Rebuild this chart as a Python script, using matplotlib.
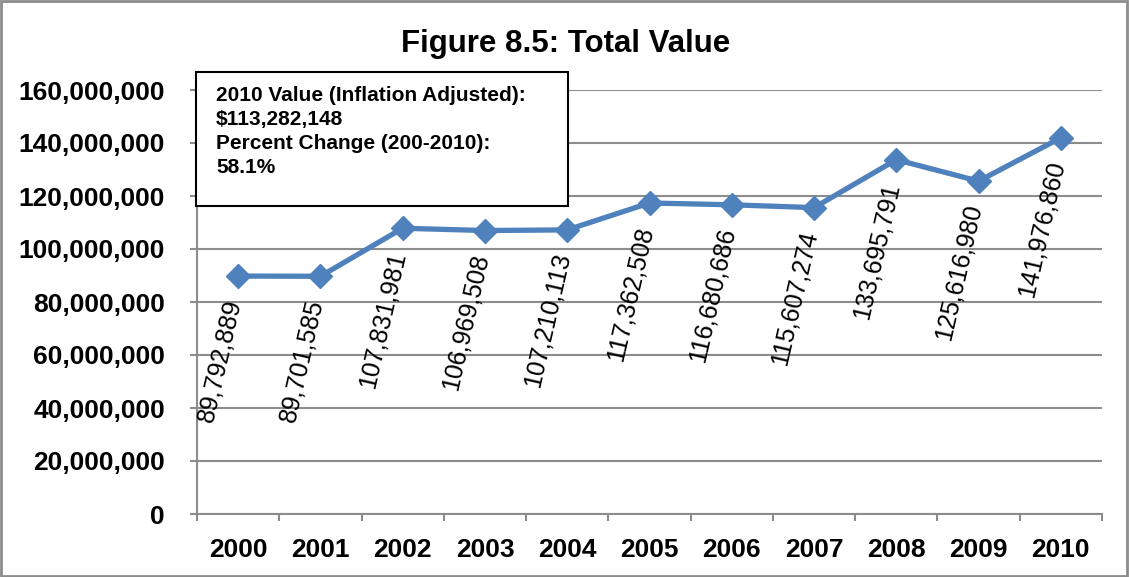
import matplotlib.pyplot as plt
import numpy as np
from matplotlib.patches import Rectangle

years = ["2000", "2001", "2002", "2003", "2004", "2005", "2006", "2007", "2008", "2009", "2010"]
values = [89792889, 89701585, 107831981, 106969508, 107210113, 117362508,
          116680686, 115607274, 133695791, 125616980, 141976860]
yticks = [0, 20000000, 40000000, 60000000, 80000000, 100000000, 120000000, 140000000, 160000000]
box_lines = ["2010 Value (Inflation Adjusted):", "$113,282,148",
             "Percent Change (200-2010):", "58.1%"]

plt.rcParams['font.family'] = ['Liberation Sans', 'DejaVu Sans']
grid_c = '#8c8c8c'
line_c = '#4f81bd'

fig = plt.figure(figsize=(11.29, 5.77), dpi=100)
ax = fig.add_axes([197/1129, 1-514/577, 905/1129, 424/577])

x = np.arange(len(years))
ax.plot(x, values, color=line_c, lw=3.8, marker='D', markersize=12, zorder=3)

for xi, v in zip(x, values):
    ax.annotate(f"{v:,}", (xi, v), xytext=(-3, -17), textcoords='offset points',
                ha='right', va='center', rotation=77, rotation_mode='anchor',
                fontsize=18)

ax.set_xlim(-0.5, len(years) - 0.5)
ax.set_ylim(0, 160000000)
ax.set_yticks(yticks)
ax.set_yticklabels([f"{t:,}" for t in yticks], fontsize=19, fontweight='bold')
ax.set_xticks(x)
ax.set_xticklabels(years, fontsize=19, fontweight='bold')
ax.set_xticks(np.arange(-0.5, len(years)), minor=True)
ax.tick_params(axis='x', which='major', length=0, pad=17)
ax.tick_params(axis='x', which='minor', length=5, width=1.5, color=grid_c, direction='out')
ax.tick_params(axis='y', length=5, width=1.5, color=grid_c, pad=18)
ax.grid(axis='y', color=grid_c, lw=1.5)
ax.set_axisbelow(True)
for s in ['top', 'right']:
    ax.spines[s].set_visible(False)
for s in ['left', 'bottom']:
    ax.spines[s].set_color(grid_c)
    ax.spines[s].set_linewidth(1.5)

fig.text(566/1129, 1-52/577, "Figure 8.5: Total Value", ha='center', va='baseline',
         fontsize=22.5, fontweight='bold')

fig.patches.append(Rectangle((196/1129, 1-206/577), 372/1129, 134/577,
                             transform=fig.transFigure, fc='white', ec='black', lw=1.5, zorder=5))
fig.text(216/1129, 1-86/577, "\n".join(box_lines), ha='left', va='top',
         fontsize=15, fontweight='bold', linespacing=1.33, zorder=6)

fig.patches.append(Rectangle((0.001, 0.002), 0.997, 0.996, transform=fig.transFigure,
                             fc='none', ec=grid_c, lw=2))

fig.savefig("out.png", dpi=100)
